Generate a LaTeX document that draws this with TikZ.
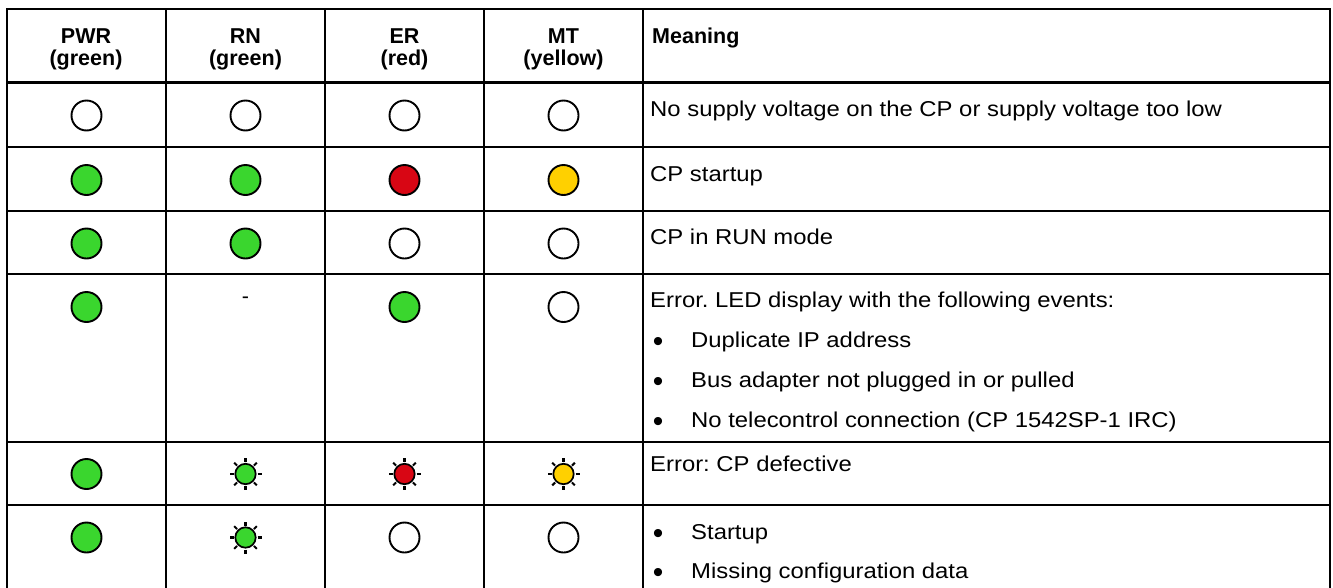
\documentclass[tikz,border=0pt]{standalone}
\usepackage{fontspec}
\setmainfont{Liberation Sans}
\newfontfamily\bodyfont[FakeStretch=1.11]{Liberation Sans}
\frenchspacing
\definecolor{ledG}{RGB}{58,214,46}
\definecolor{ledR}{RGB}{216,6,20}
\definecolor{ledY}{RGB}{255,208,0}
\tikzset{
  gridline/.style={line width=2pt},
  headrule/.style={line width=3.3pt},
  led/.style={circle, draw=black, line width=1.9pt, fill=white, minimum size=30pt, inner sep=0pt},
  blinkled/.style={circle, draw=black, line width=1.7pt, minimum size=20.4pt, inner sep=0pt},
  ray/.style={line width=2.1pt},
  hd/.style={font=\fontsize{21.5}{22}\selectfont\bfseries, anchor=base, inner sep=0pt},
  bodytxt/.style={font=\bodyfont\fontsize{21.5}{26}\selectfont\frenchspacing, anchor=base west, inner sep=0pt},
  dashtxt/.style={font=\fontsize{21.5}{26}\selectfont, anchor=base, inner sep=0pt},
  bul/.style={font=\fontsize{30}{30}\selectfont, anchor=center, inner sep=0pt}
}
\begin{document}
\begin{tikzpicture}[x=1pt,y=-1pt]
\useasboundingbox (0,0) rectangle (1333,587);
% table grid
\draw[gridline] (7,590) -- (7,9) -- (1330,9) -- (1330,590);
\foreach \cx in {166,325,484,643} \draw[gridline] (\cx,9) -- (\cx,590);
\draw[headrule] (7,82.3) -- (1330,82.3);
\foreach \ry in {147.3,211,274,442,505} \draw[gridline] (7,\ry) -- (1330,\ry);
% header
\node[hd] (h1a) at (86,43.3) {PWR};
\node[hd] (h1b) at (86,65.5) {(green)};
\node[hd] (h2a) at (245.5,43.3) {RN};
\node[hd] (h2b) at (245.5,65.5) {(green)};
\node[hd] (h3a) at (404.5,43.3) {ER};
\node[hd] (h3b) at (404.5,65.5) {(red)};
\node[hd] (h4a) at (563.5,43.3) {MT};
\node[hd] (h4b) at (563.5,65.5) {(yellow)};
\node[hd, anchor=base west] (h5) at (652,43.3) {Meaning};
% row 1
\node[led] (r1a) at (86.5,115.5) {};
\node[led] (r1b) at (245.5,115.5) {};
\node[led] (r1c) at (404.5,115.5) {};
\node[led] (r1d) at (563.5,115.5) {};
\node[bodytxt] (t1) at (650,116.5) {No supply voltage on the CP or supply voltage too low};
% row 2
\node[led, fill=ledG] (r2a) at (86.5,180) {};
\node[led, fill=ledG] (r2b) at (245.5,180) {};
\node[led, fill=ledR] (r2c) at (404.5,180) {};
\node[led, fill=ledY] (r2d) at (563.5,180) {};
\node[bodytxt] (t2) at (650,181) {CP startup};
% row 3
\node[led, fill=ledG] (r3a) at (86.5,243.5) {};
\node[led, fill=ledG] (r3b) at (245.5,243.5) {};
\node[led] (r3c) at (404.5,243.5) {};
\node[led] (r3d) at (563.5,243.5) {};
\node[bodytxt] (t3) at (650,244.5) {CP in RUN mode};
% row 4
\node[led, fill=ledG] (r4a) at (86.5,307) {};
\node[dashtxt] (r4b) at (245.5,303) {-};
\node[led, fill=ledG] (r4c) at (404.5,307) {};
\node[led] (r4d) at (563.5,307) {};
\node[bodytxt] (t4) at (650,307) {Error. LED display with the following events:};
\node[bul] (b4a) at (658,344) {•};
\node[bodytxt] (t4a) at (691,347) {Duplicate IP address};
\node[bul] (b4b) at (658,384) {•};
\node[bodytxt] (t4b) at (691,387) {Bus adapter not plugged in or pulled};
\node[bul] (b4c) at (658,424) {•};
\node[bodytxt] (t4c) at (691,427) {No telecontrol connection (CP 1542SP-1 IRC)};
% row 5
\node[led, fill=ledG] (r5a) at (86.5,474) {};
\node[blinkled, fill=ledG] (r5b) at (245.5,474) {};
\node[blinkled, fill=ledR] (r5c) at (404.5,474) {};
\node[blinkled, fill=ledY] (r5d) at (563.5,474) {};
\node[bodytxt] (t5) at (650,471) {Error: CP defective};
% row 6
\node[led, fill=ledG] (r6a) at (86.5,537.5) {};
\node[blinkled, fill=ledG] (r6b) at (245.5,537.5) {};
\node[led] (r6c) at (404.5,537.5) {};
\node[led] (r6d) at (563.5,537.5) {};
\node[bul] (b6a) at (658,536) {•};
\node[bodytxt] (t6a) at (691,539) {Startup};
\node[bul] (b6b) at (658,575) {•};
\node[bodytxt] (t6b) at (691,578) {Missing configuration data};
% rays of blinking LEDs
\foreach \n in {r5b,r5c,r5d,r6b}
  \foreach \a in {0,45,...,315}
    \draw[ray] (\n.center) ++(\a:12) -- ++(\a:4);
\end{tikzpicture}
\end{document}
